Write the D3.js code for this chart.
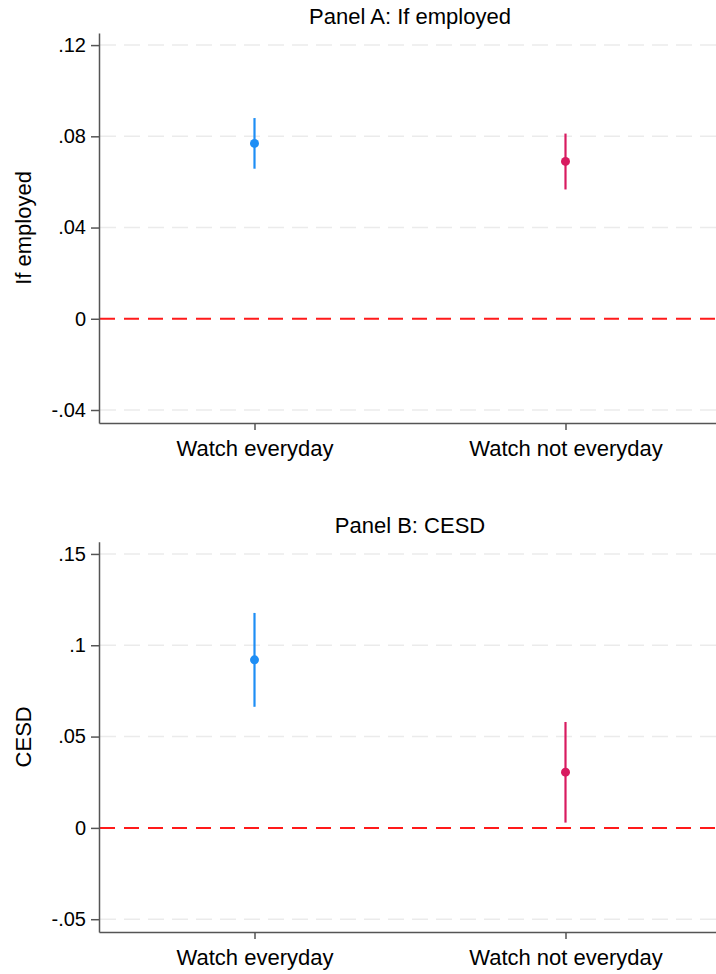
<!DOCTYPE html>
<html>
<head>
<meta charset="utf-8">
<script src="https://cdn.jsdelivr.net/npm/d3@7"></script>
<style>
  body { margin: 0; background: #fff; }
  svg { display: block; font-family: "Liberation Sans", Arial, sans-serif; }
</style>
</head>
<body>
<div id="chart"></div>
<script>
var svgWidth = 716;
var svgHeight = 974;

// data
var categories = ["Watch everyday", "Watch not everyday"];
var colors = ["#1e8ef5", "#d81b60"];

var panelTitles = ["Panel A: If employed", "Panel B: CESD"];
var axisTitles = ["If employed", "CESD"];

var estA = [0.0769, 0.0690];
var lowA = [0.0658, 0.0567];
var highA = [0.0880, 0.0812];

var estB = [0.0920, 0.0305];
var lowB = [0.0663, 0.0029];
var highB = [0.1177, 0.0580];

var ticksA = [-0.04, 0, 0.04, 0.08, 0.12];
var tickLabelsA = ["-.04", "0", ".04", ".08", ".12"];
var ticksB = [-0.05, 0, 0.05, 0.1, 0.15];
var tickLabelsB = ["-.05", "0", ".05", ".1", ".15"];

var domainA = [-0.0457, 0.1253];
var domainB = [-0.057, 0.1567];

var svg = d3.select("#chart")
    .append("svg")
        .attr("width", svgWidth)
        .attr("height", svgHeight);

var panels = [
    {top: 33, bottom: 423, title: panelTitles[0], ytitle: axisTitles[0],
     est: estA, low: lowA, high: highA, ticks: ticksA, labels: tickLabelsA, domain: domainA},
    {top: 541.7, bottom: 932, title: panelTitles[1], ytitle: axisTitles[1],
     est: estB, low: lowB, high: highB, ticks: ticksB, labels: tickLabelsB, domain: domainB}
];

var left = 99, right = 721;

var x = d3.scaleLinear()
    .domain([0.5, 2.5])
    .range([left, right]);

panels.forEach(function(p) {
    var y = d3.scaleLinear()
        .domain(p.domain)
        .range([p.bottom, p.top]);

    var g = svg.append("g");

    // grid lines
    g.selectAll(".grid")
        .data(p.ticks.filter(function(t) { return t !== 0; }))
        .enter().append("line")
        .attr("x1", left + 1)
        .attr("x2", svgWidth)
        .attr("y1", function(d) { return y(d); })
        .attr("y2", function(d) { return y(d); })
        .style("stroke", "#ebebeb")
        .style("stroke-width", 1.5)
        .style("stroke-dasharray", "16,8");

    // zero line
    g.append("line")
        .attr("x1", left + 1)
        .attr("x2", svgWidth)
        .attr("y1", y(0))
        .attr("y2", y(0))
        .style("stroke", "#ff1a1a")
        .style("stroke-width", 2)
        .style("stroke-dasharray", "15,9");

    // y axis
    var yAxis = d3.axisLeft(y)
        .tickValues(p.ticks)
        .tickFormat(function(d, i) { return p.labels[i]; })
        .tickSize(8)
        .tickPadding(5)
        .tickSizeOuter(0);

    var ya = g.append("g")
        .attr("transform", "translate(" + left + ",0)")
        .call(yAxis);
    ya.select(".domain").style("stroke", "#555").style("stroke-width", 1.5);
    ya.selectAll(".tick line").style("stroke", "#555").style("stroke-width", 1.5);
    ya.selectAll(".tick text").style("font-size", "20px").style("fill", "#000")
        .style("font-family", "Liberation Sans, Arial, sans-serif");

    // x axis
    var xAxis = d3.axisBottom(x)
        .tickValues([1, 2])
        .tickFormat(function(d) { return categories[d - 1]; })
        .tickSize(7)
        .tickPadding(10)
        .tickSizeOuter(0);

    var xa = g.append("g")
        .attr("transform", "translate(0," + p.bottom + ")")
        .call(xAxis);
    xa.select(".domain").style("stroke", "#555").style("stroke-width", 1.5);
    xa.selectAll(".tick line").style("stroke", "#555").style("stroke-width", 1.5);
    xa.selectAll(".tick text").style("font-size", "22px").style("fill", "#000")
        .style("font-family", "Liberation Sans, Arial, sans-serif");

    // confidence intervals
    g.selectAll(".ci")
        .data(p.est)
        .enter().append("line")
        .attr("x1", function(d, i) { return x(i + 1); })
        .attr("x2", function(d, i) { return x(i + 1); })
        .attr("y1", function(d, i) { return y(p.low[i]); })
        .attr("y2", function(d, i) { return y(p.high[i]); })
        .style("stroke", function(d, i) { return colors[i]; })
        .style("stroke-width", 2.2);

    // point estimates
    g.selectAll(".dot")
        .data(p.est)
        .enter().append("circle")
        .attr("cx", function(d, i) { return x(i + 1); })
        .attr("cy", function(d) { return y(d); })
        .attr("r", 4.5)
        .style("fill", function(d, i) { return colors[i]; });

    // panel title
    g.append("text")
        .attr("x", (left + right) / 2)
        .attr("y", p.top - 9)
        .attr("text-anchor", "middle")
        .style("font-size", "22px")
        .text(p.title);

    // y axis title
    g.append("text")
        .attr("transform", "translate(31," + (p.top + p.bottom) / 2 + ") rotate(-90)")
        .attr("text-anchor", "middle")
        .style("font-size", "22px")
        .text(p.ytitle);
});
</script>
</body>
</html>
